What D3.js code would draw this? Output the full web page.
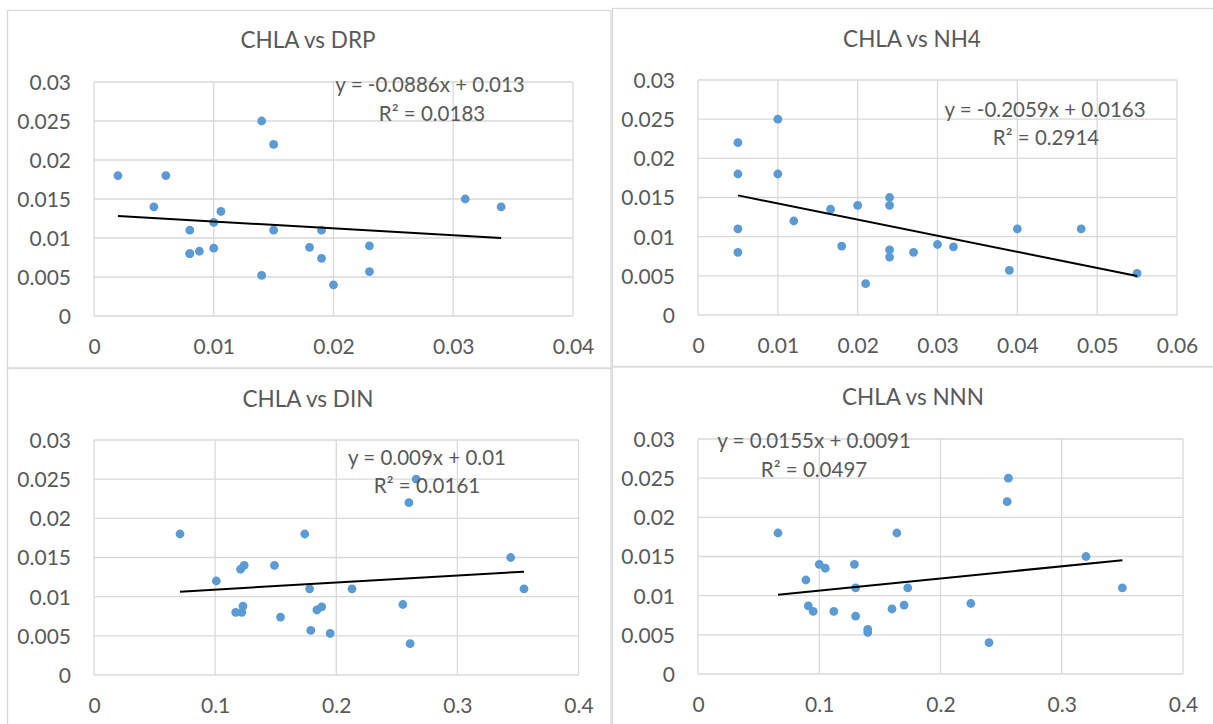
<!DOCTYPE html>
<html>
<head>
<meta charset="utf-8">
<script src="https://cdn.jsdelivr.net/npm/d3@7/dist/d3.min.js"></script>
<style>
  html, body { margin: 0; padding: 0; background: #ffffff; }
  svg { display: block; }
  text { font-family: Lato, "Open Sans", sans-serif; fill: #595959; }
</style>
</head>
<body>
<svg id="chart" width="1213" height="724"></svg>
<script>
// ---------------- DATA ----------------
const titles = ["CHLA vs DRP", "CHLA vs NH4", "CHLA vs DIN", "CHLA vs NNN"];

const chla = [0.022, 0.018, 0.011, 0.008, 0.025, 0.018, 0.012, 0.0135, 0.0088, 0.014, 0.004,
              0.015, 0.014, 0.0083, 0.0074, 0.008, 0.009, 0.0087, 0.0057, 0.011, 0.011, 0.0053];

const drpX = [0.015, 0.002, 0.019, 0.008, 0.014, 0.006, 0.010, 0.0106, 0.018, 0.005, 0.020,
              0.031, 0.034, 0.0088, 0.019, 0.008, 0.023, 0.010, 0.023, 0.015, 0.008, 0.014];
const drpY = [0.022, 0.018, 0.011, 0.008, 0.025, 0.018, 0.012, 0.0134, 0.0088, 0.014, 0.004,
              0.015, 0.014, 0.0083, 0.0074, 0.008, 0.009, 0.0087, 0.0057, 0.011, 0.011, 0.0052];

const nh4X = [0.005, 0.005, 0.005, 0.005, 0.010, 0.010, 0.012, 0.0166, 0.018, 0.020, 0.021,
              0.024, 0.024, 0.024, 0.024, 0.027, 0.030, 0.032, 0.039, 0.040, 0.048, 0.055];
const nh4Y = chla;

const dinX = [0.26, 0.071, 0.178, 0.117, 0.266, 0.174, 0.101, 0.121, 0.123, 0.124, 0.261,
              0.344, 0.149, 0.184, 0.154, 0.122, 0.255, 0.188, 0.179, 0.213, 0.355, 0.195];
const dinY = chla;

const nnnX = [0.255, 0.066, 0.13, 0.095, 0.256, 0.164, 0.089, 0.105, 0.17, 0.1, 0.24,
              0.32, 0.129, 0.16, 0.13, 0.112, 0.225, 0.091, 0.14, 0.173, 0.35, 0.14];
const nnnY = chla;

const slopes = [-0.0886, -0.2059, 0.009, 0.0155];
const intercepts = [0.013, 0.0163, 0.01, 0.0091];
const eqLabels = ["y = -0.0886x + 0.013", "y = -0.2059x + 0.0163", "y = 0.009x + 0.01", "y = 0.0155x + 0.0091"];
const r2Labels = ["R² = 0.0183", "R² = 0.2914", "R² = 0.0161", "R² = 0.0497"];

const yTicks = [0, 0.005, 0.01, 0.015, 0.02, 0.025, 0.03];
const xTicksDRP = [0, 0.01, 0.02, 0.03, 0.04];
const xTicksNH4 = [0, 0.01, 0.02, 0.03, 0.04, 0.05, 0.06];
const xTicksDIN = [0, 0.1, 0.2, 0.3, 0.4];
const xTicksNNN = [0, 0.1, 0.2, 0.3, 0.4];

// ---------------- LAYOUT ----------------
const panels = [
  { xs: drpX, ys: drpY, xt: xTicksDRP, frame: [7.5, 10.5, 611, 368], plot: [94, 82, 573, 316], titleXY: [308, 40], eqXY: [430, 85], r2XY: [432, 114] },
  { xs: nh4X, ys: nh4Y, xt: xTicksNH4, frame: [612.5, 8.5, 1225, 366.5], plot: [698, 80, 1177, 315], titleXY: [912, 39], eqXY: [1045, 110], r2XY: [1046, 138] },
  { xs: dinX, ys: dinY, xt: xTicksDIN, frame: [7.5, 368.5, 611, 730], plot: [94, 440, 578.5, 675], titleXY: [308, 399], eqXY: [427, 458], r2XY: [427, 486] },
  { xs: nnnX, ys: nnnY, xt: xTicksNNN, frame: [612.5, 367, 1225, 730], plot: [698, 439, 1183, 674], titleXY: [913, 397], eqXY: [814, 441], r2XY: [814, 470] }
];

const svg = d3.select("#chart");
const grid = "#d9d9d9";
const tickFont = 21;
const labelFont = 20.5;

panels.forEach((p, i) => {
  const g = svg.append("g");
  const [fx0, fy0, fx1, fy1] = p.frame;
  g.append("rect").attr("x", fx0).attr("y", fy0).attr("width", fx1 - fx0).attr("height", fy1 - fy0)
    .attr("fill", "#ffffff").attr("stroke", grid).attr("stroke-width", 1.3);

  const [l, t, r, b] = p.plot;
  const x = d3.scaleLinear().domain([p.xt[0], p.xt[p.xt.length - 1]]).range([l, r]);
  const y = d3.scaleLinear().domain([0, 0.03]).range([b, t]);

  // gridlines
  g.append("g").selectAll("line").data(yTicks).join("line")
    .attr("x1", l).attr("x2", r).attr("y1", d => y(d)).attr("y2", d => y(d))
    .attr("stroke", grid).attr("stroke-width", 1.3);
  g.append("g").selectAll("line").data(p.xt).join("line")
    .attr("x1", d => x(d)).attr("x2", d => x(d)).attr("y1", t).attr("y2", b)
    .attr("stroke", grid).attr("stroke-width", 1.3);

  // axes (labels only, styled like Excel)
  const yAxis = g.append("g").attr("transform", `translate(${l},0)`)
    .call(d3.axisLeft(y).tickValues(yTicks).tickFormat(d => String(d)).tickSize(0).tickPadding(23));
  yAxis.select(".domain").remove();
  yAxis.selectAll("text").attr("font-size", tickFont).attr("fill", "#595959").attr("dy", "0.35em")
    .style("font-family", "Lato, 'Open Sans', sans-serif");

  const xAxis = g.append("g").attr("transform", `translate(0,${b})`)
    .call(d3.axisBottom(x).tickValues(p.xt).tickFormat(d => String(d)).tickSize(0).tickPadding(0));
  xAxis.select(".domain").remove();
  xAxis.selectAll("text").attr("font-size", tickFont).attr("fill", "#595959").attr("y", 31).attr("dy", "0.35em")
    .style("font-family", "Lato, 'Open Sans', sans-serif");

  // title
  g.append("text").attr("x", p.titleXY[0]).attr("y", p.titleXY[1]).attr("dy", "0.35em")
    .attr("text-anchor", "middle").attr("font-size", 22.5).text(titles[i]);

  // points
  const pts = p.xs.map((v, k) => [v, p.ys[k]]);
  g.append("g").selectAll("circle").data(pts).join("circle")
    .attr("cx", d => x(d[0])).attr("cy", d => y(d[1])).attr("r", 4.4)
    .attr("fill", "#5b9bd5");

  // trend line
  const ext = d3.extent(p.xs);
  const line = d3.line().x(d => x(d)).y(d => y(slopes[i] * d + intercepts[i]));
  g.append("path").datum(ext).attr("d", line).attr("fill", "none")
    .attr("stroke", "#000000").attr("stroke-width", 2);

  // equation labels
  g.append("text").attr("x", p.eqXY[0]).attr("y", p.eqXY[1]).attr("dy", "0.35em")
    .attr("text-anchor", "middle").attr("font-size", labelFont).text(eqLabels[i]);
  g.append("text").attr("x", p.r2XY[0]).attr("y", p.r2XY[1]).attr("dy", "0.35em")
    .attr("text-anchor", "middle").attr("font-size", labelFont).text(r2Labels[i]);
});
</script>
</body>
</html>
